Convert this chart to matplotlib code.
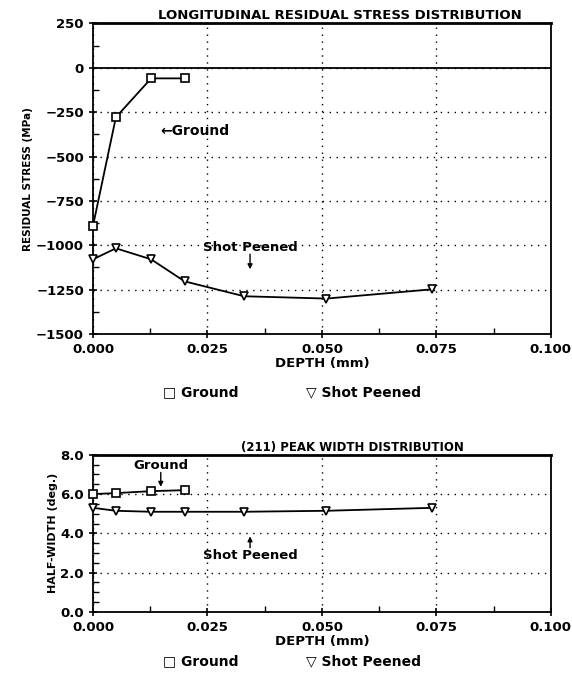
import matplotlib.pyplot as plt
from matplotlib.ticker import MultipleLocator, FormatStrFormatter

# residual stress data (MPa) vs depth (mm)
ground_depth = [0.0, 0.005, 0.0127, 0.020]
ground_stress = [-890, -279, -60, -60]
peened_depth = [0.0, 0.005, 0.0127, 0.020, 0.033, 0.051, 0.074]
peened_stress = [-1079, -1017, -1079, -1203, -1287, -1300, -1248]

# peak width data (deg) vs depth (mm)
ground_width = [6.0, 6.05, 6.15, 6.2]
peened_width = [5.3, 5.15, 5.1, 5.1, 5.1, 5.15, 5.3]

xticks = [0.0, 0.025, 0.050, 0.075, 0.100]

plt.rcParams['font.family'] = 'DejaVu Sans'
plt.rcParams['font.weight'] = 'bold'
plt.rcParams['axes.titleweight'] = 'bold'
plt.rcParams['axes.labelweight'] = 'bold'

fig = plt.figure(figsize=(5.72, 6.86), dpi=100)
ax1 = fig.add_axes([0.1626, 0.513, 0.8004, 0.453])
ax2 = fig.add_axes([0.1626, 0.108, 0.8004, 0.229])

arrow = dict(arrowstyle='-|>', color='black', lw=1.0, mutation_scale=7,
             shrinkA=0, shrinkB=0)


def style_axes(ax):
    ax.set_xlim(0, 0.1)
    ax.set_xticks(xticks)
    ax.xaxis.set_major_formatter(FormatStrFormatter('%.3f'))
    ax.xaxis.set_minor_locator(MultipleLocator(0.0125))
    ax.grid(True, which='major', linestyle=(0, (1, 4)), color='black', linewidth=1.0)
    ax.tick_params(which='major', direction='inout', length=6, width=1.2, labelsize=9.5)
    ax.tick_params(which='minor', direction='in', length=4, width=1.0)
    for s in ax.spines.values():
        s.set_linewidth(1.3)
    ax.spines['top'].set_linewidth(2.0)
    ax.set_xlabel('DEPTH (mm)', fontsize=9.5, labelpad=1)


# top: residual stress
ax1.plot(ground_depth, ground_stress, color='black', lw=1.3, marker='s',
         ms=6, mfc='white', mec='black', mew=1.2, clip_on=False, zorder=3)
ax1.plot(peened_depth, peened_stress, color='black', lw=1.3, marker='v',
         ms=6, mfc='white', mec='black', mew=1.2, clip_on=False, zorder=3)
ax1.axhline(0, color='black', lw=1.3)
ax1.set_ylim(-1500, 250)
ax1.yaxis.set_major_locator(MultipleLocator(250))
ax1.yaxis.set_minor_locator(MultipleLocator(125))
style_axes(ax1)
ax1.set_ylabel('RESIDUAL STRESS (MPa)', fontsize=7.5, labelpad=2)
ax1.set_title('LONGITUDINAL RESIDUAL STRESS DISTRIBUTION', fontsize=9.5, pad=3, x=0.54)
ax1.text(0.0146, -358, '\u2190Ground', fontsize=10, va='center', ha='left')
ax1.text(0.0343, -1011, 'Shot Peened', fontsize=9.5, ha='center', va='center')
ax1.annotate('', xy=(0.0343, -1135), xytext=(0.0343, -1050), arrowprops=arrow)

# bottom: peak width
ax2.plot(ground_depth, ground_width, color='black', lw=1.3, marker='s',
         ms=6, mfc='white', mec='black', mew=1.2, clip_on=False, zorder=3)
ax2.plot(peened_depth, peened_width, color='black', lw=1.3, marker='v',
         ms=6, mfc='white', mec='black', mew=1.2, clip_on=False, zorder=3)
ax2.set_ylim(0, 8)
ax2.yaxis.set_major_locator(MultipleLocator(2))
ax2.yaxis.set_minor_locator(MultipleLocator(0.5))
ax2.yaxis.set_major_formatter(FormatStrFormatter('%.1f'))
style_axes(ax2)
ax2.set_ylabel('HALF-WIDTH (deg.)', fontsize=8, labelpad=2)
ax2.set_title('(211) PEAK WIDTH DISTRIBUTION', fontsize=8.5, pad=3, x=0.566)
ax2.text(0.0148, 7.44, 'Ground', fontsize=9.5, ha='center', va='center')
ax2.annotate('', xy=(0.0148, 6.37), xytext=(0.0148, 7.1), arrowprops=arrow)
ax2.text(0.0343, 2.86, 'Shot Peened', fontsize=9.5, ha='center', va='center')
ax2.annotate('', xy=(0.0343, 3.85), xytext=(0.0343, 3.27), arrowprops=arrow)

# legends below each plot
for ybase in (0.428, 0.036):
    fig.text(0.285, ybase, '\u25a1 Ground', fontsize=10, ha='left', va='center')
    fig.text(0.535, ybase, '\u25bd Shot Peened', fontsize=10, ha='left', va='center')

fig.savefig('out.png', dpi=100)
